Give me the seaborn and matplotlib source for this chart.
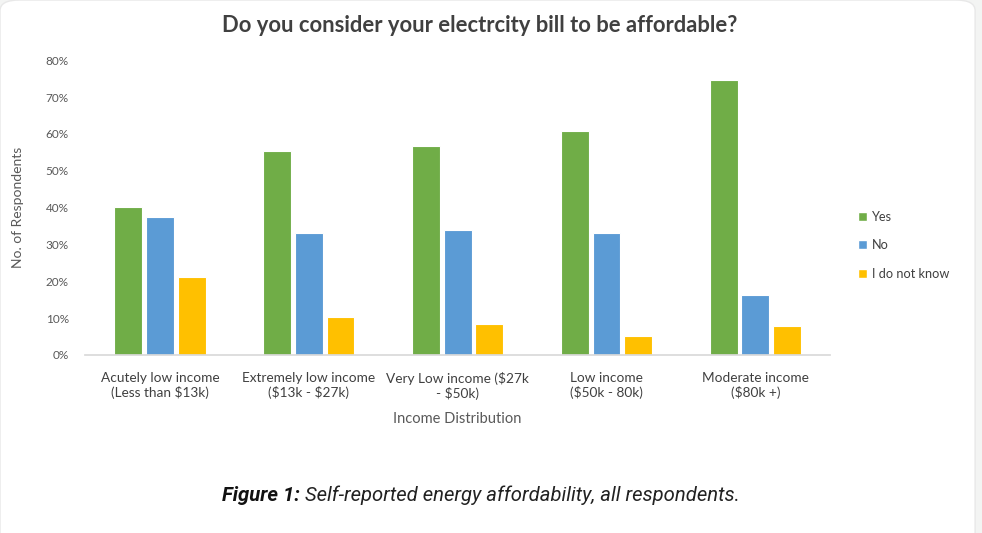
import matplotlib
matplotlib.use("Agg")
import matplotlib.pyplot as plt
import seaborn as sns
import pandas as pd
from matplotlib.patches import FancyBboxPatch, Patch
from matplotlib.ticker import PercentFormatter

categories = ["Acutely low income\n(Less than \\$13k)",
              "Extremely low income\n(\\$13k - \\$27k)",
              "Very Low income (\\$27k\n- \\$50k)",
              "Low income\n(\\$50k - 80k)",
              "Moderate income\n(\\$80k +)"]
series = ["Yes", "No", "I do not know"]
yes_vals = [40.2, 55.4, 56.6, 60.7, 74.7]
no_vals = [37.5, 33.2, 33.9, 33.2, 16.3]
idk_vals = [21.2, 10.2, 8.3, 5.1, 7.9]
colors = ["#70AD47", "#5B9BD5", "#FFC000"]

rows = []
for s, vals in zip(series, [yes_vals, no_vals, idk_vals]):
    for c, v in zip(categories, vals):
        rows.append({"cat": c, "series": s, "val": v / 100})
df = pd.DataFrame(rows)

sns.set_theme(style="white")
plt.rcParams['font.family'] = ['Lato', 'DejaVu Sans']

fig = plt.figure(figsize=(9.82, 5.33), dpi=100)
fig.patch.set_facecolor("#f3f4f3")
card = FancyBboxPatch((0.0, -0.05), 0.993, 1.05, boxstyle="round,pad=0,rounding_size=0.02",
                      transform=fig.transFigure, facecolor="white", edgecolor="#e8e8e8",
                      linewidth=1, zorder=-10)
fig.patches.append(card)

ax = fig.add_axes([0.087, 0.334, 0.758, 0.553])
ax.set_facecolor("none")
sns.barplot(data=df, x="cat", y="val", hue="series", palette=colors, ax=ax,
            width=0.64, gap=0.12, edgecolor="white", linewidth=0.8, legend=False,
            saturation=1)

ax.set_ylim(0, 0.8)
ax.set_yticks([i / 10 for i in range(9)])
ax.yaxis.set_major_formatter(PercentFormatter(1.0, decimals=0))
ax.tick_params(axis="y", labelsize=8.5, colors="#595959", length=0, pad=12)
ax.tick_params(axis="x", labelsize=9.8, colors="#404040", length=0, pad=12)
for sp in ["top", "right", "left"]:
    ax.spines[sp].set_visible(False)
ax.spines["bottom"].set_color("#d9d9d9")
ax.set_xlabel("Income Distribution", fontsize=10.5, color="#595959", labelpad=9)
ax.set_ylabel("No. of Respondents", fontsize=10, color="#595959")
ax.yaxis.set_label_coords(-(85 - 24) / (0.758 * 982), 0.5)

fig.text(0.488, 0.953, "Do you consider your electrcity bill to be affordable?",
         ha="center", va="center", fontsize=15.8, fontweight="bold", color="#404040")

handles = [Patch(facecolor=c, label=s) for c, s in zip(colors, series)]
fig.legend(handles=handles, loc="center left", bbox_to_anchor=(0.862, 0.54),
           frameon=False, fontsize=9.2, handlelength=0.7, handleheight=0.7,
           handletextpad=0.4, labelspacing=1.3, labelcolor="#404040")

t1 = fig.text(0.226, 0.07, "Figure 1:", fontsize=14.6, fontweight="bold", style="italic",
              family=["Roboto", "DejaVu Sans"], color="#111111", ha="left", va="center")
fig.canvas.draw()
bb = t1.get_window_extent(renderer=fig.canvas.get_renderer())
x2 = (bb.x1 + 5) / fig.bbox.width
fig.text(x2, 0.07, "Self-reported energy affordability, all respondents.", fontsize=14.6,
         style="italic", family=["Roboto", "DejaVu Sans"], color="#222222", ha="left", va="center")

fig.savefig("out.png", dpi=100, facecolor=fig.get_facecolor())
